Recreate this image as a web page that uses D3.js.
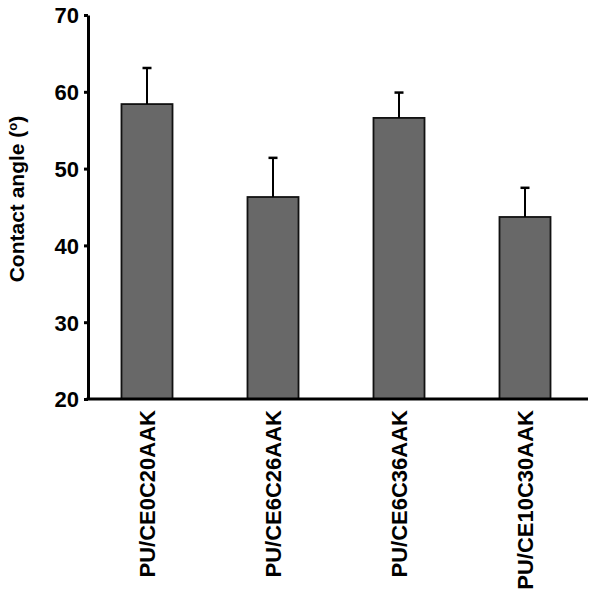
<!DOCTYPE html>
<html>
<head>
<meta charset="utf-8">
<script src="https://cdn.jsdelivr.net/npm/d3@7"></script>
<style>
  body { margin: 0; background: #fff; }
  svg text { font-family: "Liberation Sans", Arial, sans-serif; font-weight: bold; fill: #000; }
</style>
</head>
<body>
<div id="chart"></div>
<script>
// data
var samples = ["PU/CE0C20AAK", "PU/CE6C26AAK", "PU/CE6C36AAK", "PU/CE10C30AAK"];
var angles = [58.4, 46.3, 56.6, 43.7];
var errors = [4.7, 5.1, 3.3, 3.8];
var yTicks = [20, 30, 40, 50, 60, 70];

var width = 600, height = 598;
var margin = { top: 15, left: 88, bottom: 199, right: 12 };

var svg = d3.select("#chart").append("svg")
  .attr("width", width)
  .attr("height", height);

var x = d3.scaleBand()
  .domain(samples)
  .range([margin.left - 4, width - margin.right])
  .paddingInner(0.595)
  .paddingOuter(0.2975);

var y = d3.scaleLinear()
  .domain([20, 70])
  .range([height - margin.bottom, margin.top]);

var data = samples.map(function (s, i) { return { name: s, v: angles[i], e: errors[i] }; });

// bars
svg.selectAll(".bar")
  .data(data)
  .enter().append("rect")
  .attr("class", "bar")
  .attr("x", function (d) { return x(d.name); })
  .attr("y", function (d) { return y(d.v); })
  .attr("width", x.bandwidth())
  .attr("height", function (d) { return y(20) - y(d.v); })
  .attr("fill", "#686868")
  .attr("stroke", "#111")
  .attr("stroke-width", 1.8);

// error bars (upper only)
var cx = function (d) { return x(d.name) + x.bandwidth() / 2; };
svg.selectAll(".err")
  .data(data)
  .enter().append("line")
  .attr("x1", cx).attr("x2", cx)
  .attr("y1", function (d) { return y(d.v); })
  .attr("y2", function (d) { return y(d.v + d.e); })
  .attr("stroke", "#000")
  .attr("stroke-width", 2);

svg.selectAll(".cap")
  .data(data)
  .enter().append("line")
  .attr("x1", function (d) { return cx(d) - 4.5; })
  .attr("x2", function (d) { return cx(d) + 4.5; })
  .attr("y1", function (d) { return y(d.v + d.e); })
  .attr("y2", function (d) { return y(d.v + d.e); })
  .attr("stroke", "#000")
  .attr("stroke-width", 2.5);

// y axis
var yAxis = d3.axisLeft(y)
  .tickValues(yTicks)
  .tickSizeInner(4)
  .tickSizeOuter(0)
  .tickPadding(5);

var gY = svg.append("g")
  .attr("transform", "translate(" + margin.left + ",0)")
  .call(yAxis);
gY.select(".domain").attr("stroke-width", 3);
gY.selectAll(".tick line").attr("stroke-width", 3);
gY.selectAll(".tick text").style("font-size", "22px").attr("dy", "0.36em");

// x axis line
svg.append("line")
  .attr("x1", margin.left - 1.5)
  .attr("x2", width - margin.right)
  .attr("y1", y(20))
  .attr("y2", y(20))
  .attr("stroke", "#000")
  .attr("stroke-width", 3);

// x labels rotated
svg.selectAll(".xlab")
  .data(samples)
  .enter().append("text")
  .attr("transform", function (d) {
    return "translate(" + (x(d) + x.bandwidth() / 2 + 8) + "," + (y(20) + 11) + ") rotate(-90)";
  })
  .attr("text-anchor", "end")
  .style("font-size", "22px")
  .text(function (d) { return d; });

// y title
var title = svg.append("text")
  .attr("transform", "translate(24,199) rotate(-90)")
  .attr("text-anchor", "middle")
  .style("font-size", "21px");
title.append("tspan").text("Contact angle (");
title.append("tspan").attr("baseline-shift", "super").style("font-size", "13px").text("o");
title.append("tspan").text(")");
</script>
</body>
</html>
